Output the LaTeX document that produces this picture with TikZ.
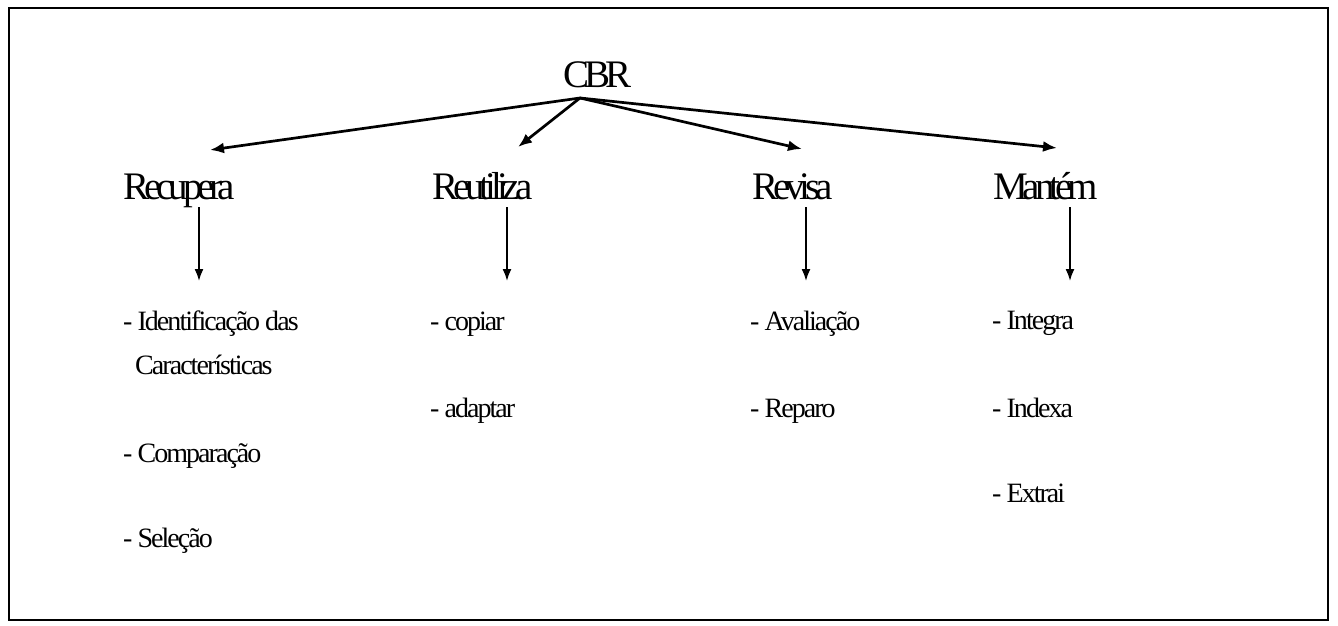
\documentclass[tikz,border=0pt]{standalone}
\usepackage{fontspec}
\setmainfont{Liberation Serif}
\newfontfamily\hfont[LetterSpace=-13]{Liberation Serif}
\newfontfamily\ifont[LetterSpace=-7]{Liberation Serif}
\usetikzlibrary{arrows.meta}
\tikzset{
  head/.style={anchor=base west, inner sep=0pt, font=\hfont\fontsize{39}{39}\selectfont},
  item/.style={anchor=base west, inner sep=0pt, font=\ifont\fontsize{28}{28}\selectfont},
  toparr/.style={line width=2.7pt, -{Latex[length=14pt,width=11pt]}},
  downarr/.style={line width=1.7pt, -{Latex[length=12pt,width=9pt]}},
  frame/.style={line width=1.6pt}
}
\begin{document}
\begin{tikzpicture}[x=1pt,y=-1pt]
\useasboundingbox (0,0) rectangle (1338,626);
\fill[white] (0,0) rectangle (1338,626);
\draw[frame] (9,8) rectangle (1328,620);

% headers
\node[head] (cbr) at (563,87) {CBR};
\node[head] (rec) at (123,199) {Recupera};
\node[head] (reu) at (432,199) {Reutiliza};
\node[head] (rev) at (752,199) {Revisa};
\node[head] (man) at (993,199) {Mantém};

% items
\node[item] (i1) at (123,330) {- Identificação das};
\node[item] (i1b) at (135,374) {Características};
\node[item] (i2) at (123,462) {- Comparação};
\node[item] (i3) at (123,547) {- Seleção};
\node[item] (c1) at (430,330) {- copiar};
\node[item] (c2) at (430,417) {- adaptar};
\node[item] (v1) at (750,330) {- Avaliação};
\node[item] (v2) at (750,417) {- Reparo};
\node[item] (m1) at (992,329) {- Integra};
\node[item] (m2) at (992,417) {- Indexa};
\node[item] (m3) at (992,502) {- Extrai};

% connector points
\coordinate (o) at (580,98);
\coordinate (trec) at (210,150);
\coordinate (treu) at (518,147);
\coordinate (trev) at (802,149);
\coordinate (tman) at (1057,148);

\draw[toparr] (o) -- (trec);
\draw[toparr] (o) -- (treu);
\draw[toparr] (o) -- (trev);
\draw[toparr] (o) -- (tman);

\coordinate (drs) at (199,207); \coordinate (dre) at (199,281);
\coordinate (dus) at (507,207); \coordinate (due) at (507,281);
\coordinate (dvs) at (806,207); \coordinate (dve) at (806,281);
\coordinate (dms) at (1070,207); \coordinate (dme) at (1070,281);
\draw[downarr] (drs) -- (dre);
\draw[downarr] (dus) -- (due);
\draw[downarr] (dvs) -- (dve);
\draw[downarr] (dms) -- (dme);
\end{tikzpicture}
\end{document}
